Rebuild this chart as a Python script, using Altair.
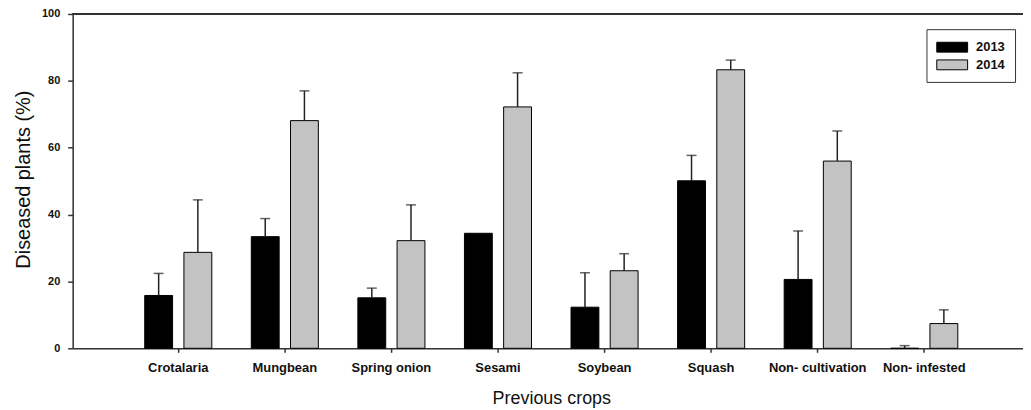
import altair as alt
import pandas as pd

categories = ["Crotalaria", "Mungbean", "Spring onion", "Sesami", "Soybean",
              "Squash", "Non- cultivation", "Non- infested"]
years = ["2013", "2014"]
v2013 = [15.8, 33.4, 15.1, 34.4, 12.3, 50.1, 20.6, 0.0]
v2014 = [28.7, 68.1, 32.2, 72.2, 23.2, 83.3, 56.0, 7.4]
err2013 = [6.6, 5.4, 2.9, 0.0, 10.3, 7.6, 14.5, 0.8]
err2014 = [15.7, 8.9, 10.7, 10.2, 5.1, 2.9, 9.0, 4.1]
y_ticks = [0, 20, 40, 60, 80, 100]

rows = []
for i, c in enumerate(categories):
    rows.append({"crop": c, "year": "2013", "value": v2013[i], "err": err2013[i]})
    rows.append({"crop": c, "year": "2014", "value": v2014[i], "err": err2014[i]})
df = pd.DataFrame(rows)

FONT = "Liberation Sans"
PLOT_H = 336

x_enc = alt.X(
    "crop:N", sort=categories,
    scale=alt.Scale(paddingInner=0, paddingOuter=0.4585, align=0.535, round=False),
    axis=alt.Axis(
        title="Previous crops", labelAngle=0, labelFont=FONT, labelFontWeight="bold",
        labelFontSize=13, labelColor="#111", tickSize=4, tickColor="#333", tickWidth=1.5,
        domainColor="#333", domainWidth=1.5, labelPadding=9,
        titleFont=FONT, titleFontSize=18, titleFontWeight="normal", titleColor="#111",
        titleX=481, titleY=55.5, titleBaseline="alphabetic", titleAlign="center",
    ),
)
xo_enc = alt.XOffset("year:N", sort=years,
                     scale=alt.Scale(paddingInner=0.289, paddingOuter=0.504))
y_scale = alt.Scale(domain=[0, 100], nice=False)
y_enc = alt.Y(
    "value:Q", scale=y_scale,
    axis=alt.Axis(
        values=y_ticks, grid=False, title="Diseased plants (%)", labelFont=FONT,
        labelFontWeight="bold", labelFontSize=11, labelColor="#111", tickSize=5,
        tickColor="#333", tickWidth=1.5, domainColor="#333", domainWidth=1.5,
        labelPadding=8, titleFont=FONT, titleFontSize=20, titleFontWeight="normal",
        titleColor="#111", titleX=-43.5, titleY=166, titleBaseline="alphabetic",
        titleAlign="center", titleAngle=270,
    ),
)
color_enc = alt.Color(
    "year:N", sort=years,
    scale=alt.Scale(domain=years, range=["#000000", "#c3c3c3"]),
    legend=alt.Legend(
        title=None, orient="none", legendX=858, legendY=15.3, padding=9.6,
        strokeColor="#333", fillColor="white",
        symbolType="M-1,-0.64H3V0.64H-1Z", symbolSize=240,
        symbolStrokeColor="black", symbolStrokeWidth=1, symbolOpacity=1,
        labelFont=FONT, labelFontSize=13, labelFontWeight="bold", labelColor="#111",
        labelOffset=23.2, labelBaseline="middle", rowPadding=1.75,
    ),
)

base = alt.Chart(df)

bars = base.mark_bar(stroke="black", strokeWidth=1).encode(
    x=x_enc, xOffset=xo_enc, y=y_enc, color=color_enc
)

err_base = base.transform_filter("datum.err > 0").transform_calculate(
    upper="datum.value + datum.err"
)
err_rules = err_base.mark_rule(color="#222", strokeWidth=1.5).encode(
    x=alt.X("crop:N", sort=categories), xOffset=alt.XOffset("year:N", sort=years),
    y=alt.Y("value:Q"), y2="upper:Q"
)
err_caps = err_base.mark_tick(color="#222", thickness=1.5, size=10, orient="horizontal").encode(
    x=alt.X("crop:N", sort=categories), xOffset=alt.XOffset("year:N", sort=years),
    y=alt.Y("upper:Q")
)

top_line = alt.Chart(df).mark_rule(color="#333", strokeWidth=1.5).encode(
    y=alt.datum(100)
)

chart = alt.layer(top_line, bars, err_rules, err_caps).properties(
    width=955, height=PLOT_H,
    autosize=alt.AutoSizeParams(type="none"),
    padding={"left": 65, "top": 5, "right": 0, "bottom": 60},
).configure_view(stroke=None).configure(font=FONT)

chart.save("out.html", embed_options={"renderer": "svg", "actions": False})
